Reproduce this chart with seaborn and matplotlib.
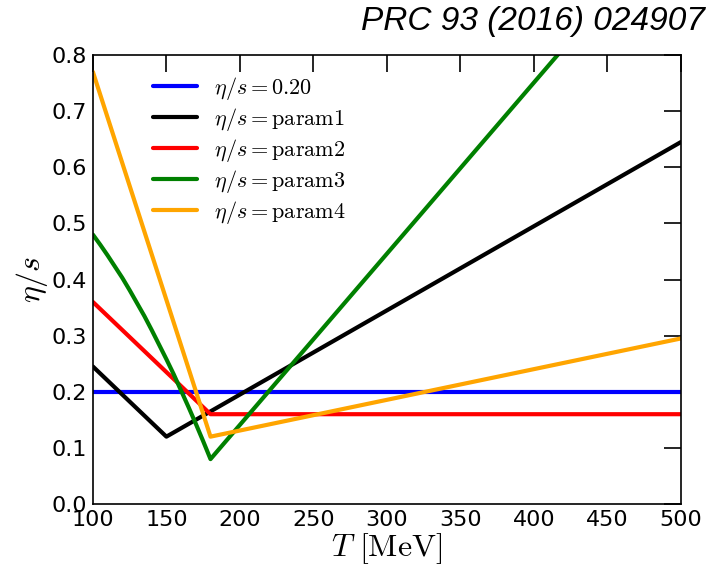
import numpy as np
import pandas as pd
import matplotlib
matplotlib.use("Agg")
import matplotlib.pyplot as plt
import seaborn as sns

# Temperature grid points (MeV) and eta/s values for each parametrization
T_const = [100, 500]
eta_const = [0.20, 0.20]

T_p1 = [100, 150, 500]
eta_p1 = [0.245, 0.12, 0.645]

T_p2 = [100, 180, 500]
eta_p2 = [0.36, 0.16, 0.16]

T_p3 = [100, 105, 110, 115, 120, 125, 130, 135, 140, 145, 150, 155,
        160, 165, 170, 175, 180, 500]
eta_p3 = [0.480, 0.462, 0.443, 0.423, 0.403, 0.381, 0.358, 0.335, 0.310,
          0.284, 0.258, 0.231, 0.202, 0.173, 0.143, 0.112, 0.080, 1.056]

T_p4 = [100, 180, 500]
eta_p4 = [0.77, 0.12, 0.295]

labels = [r"$\eta/s = 0.20$", r"$\eta/s = \mathrm{param1}$", r"$\eta/s = \mathrm{param2}$",
          r"$\eta/s = \mathrm{param3}$", r"$\eta/s = \mathrm{param4}$"]
colors = ["#0000ff", "#000000", "#ff0000", "#008000", "#ffa500"]

xticks = [100, 150, 200, 250, 300, 350, 400, 450, 500]
yticks = [0.0, 0.1, 0.2, 0.3, 0.4, 0.5, 0.6, 0.7, 0.8]

frames = []
for lab, T, e in zip(labels, [T_const, T_p1, T_p2, T_p3, T_p4],
                     [eta_const, eta_p1, eta_p2, eta_p3, eta_p4]):
    frames.append(pd.DataFrame({"T": T, "eta_s": e, "param": lab}))
df = pd.concat(frames, ignore_index=True)

sns.set_style("white")
plt.rcParams["font.family"] = ["DejaVu Sans"]
plt.rcParams["mathtext.fontset"] = "cm"
plt.rcParams["text.color"] = "black"
plt.rcParams["axes.labelcolor"] = "black"

fig = plt.figure(figsize=(7.09, 5.76), dpi=100)
ax = fig.add_axes([0.131, 0.125, 0.8295, 0.7795])

sns.lineplot(data=df, x="T", y="eta_s", hue="param", hue_order=labels,
             palette=colors, linewidth=3, sort=False, estimator=None, ax=ax)

ax.set_xlim(100, 500)
ax.set_ylim(0.0, 0.8)
ax.set_xticks(xticks)
ax.set_yticks(yticks)
ax.set_yticklabels([f"{v:.1f}" for v in yticks])
ax.tick_params(direction="in", length=12, width=1.2, labelsize=16, pad=4,
               top=True, right=True, colors="black")
for sp in ax.spines.values():
    sp.set_visible(True)
    sp.set_color("black")
    sp.set_linewidth(1.2)

ax.set_xlabel(r"$T\ [\mathrm{MeV}]$", fontsize=23, labelpad=1)
ax.set_ylabel(r"$\eta/s$", fontsize=23, labelpad=1)

leg = ax.legend(loc="upper left", bbox_to_anchor=(0.068, 1.0), frameon=False,
                fontsize=16, handlelength=2.0, handletextpad=0.75, labelspacing=0.18)
for h in leg.get_lines():
    h.set_linewidth(3)
for t in leg.get_texts():
    t.set_color("black")

fig.text(0.994, 0.963, "PRC 93 (2016) 024907", ha="right", va="center",
         fontsize=24, style="italic", color="black",
         family=["Liberation Sans", "DejaVu Sans"])

fig.savefig("out.png", dpi=100)
